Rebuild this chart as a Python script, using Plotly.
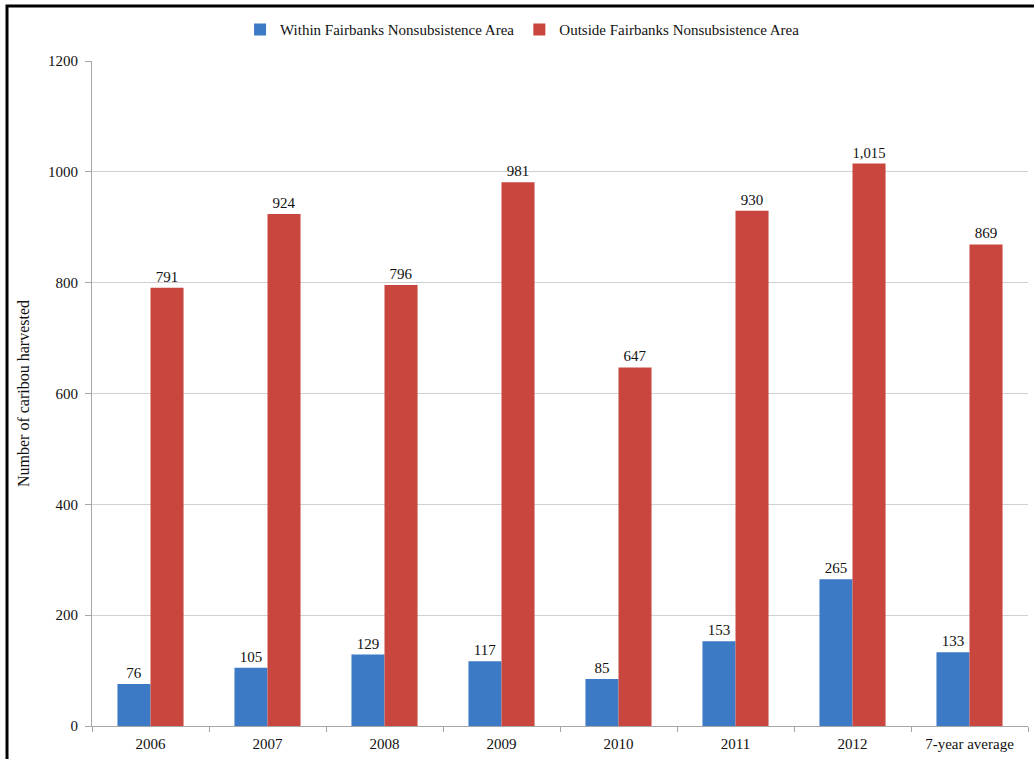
import plotly.graph_objects as go

categories = ["2006", "2007", "2008", "2009", "2010", "2011", "2012", "7-year average"]
within_values = [76, 105, 129, 117, 85, 153, 265, 133]
outside_values = [791, 924, 796, 981, 647, 930, 1015, 869]
y_ticks = [0, 200, 400, 600, 800, 1000, 1200]

FONT = "Liberation Serif, Times New Roman, serif"
BLUE = "#3D7AC6"
RED = "#C9463F"
TXT = "#111111"

fig = go.Figure()
fig.add_trace(go.Bar(
    x=categories, y=within_values, name="Within Fairbanks Nonsubsistence Area",
    marker=dict(color=BLUE, line=dict(width=0)),
    text=within_values, texttemplate="%{y:,d}", textposition="outside",
    textfont=dict(family=FONT, size=15, color=TXT), cliponaxis=False,
))
fig.add_trace(go.Bar(
    x=categories, y=outside_values, name="Outside Fairbanks Nonsubsistence Area",
    marker=dict(color=RED, line=dict(width=0)),
    text=outside_values, texttemplate="%{y:,d}", textposition="outside",
    textfont=dict(family=FONT, size=15, color=TXT), cliponaxis=False,
))

fig.update_layout(
    width=1034, height=759,
    margin=dict(l=92, r=6, t=61, b=33),
    paper_bgcolor="white", plot_bgcolor="white",
    barmode="group", bargap=0.435, bargroupgap=0,
    font=dict(family=FONT, size=15, color=TXT),
    showlegend=True,
    legend=dict(orientation="h", x=0.46, xanchor="center", y=1.047, yanchor="middle",
                font=dict(family=FONT, size=15, color=TXT),
                itemwidth=30, traceorder="normal"),
    xaxis=dict(type="category", showline=True, linecolor="#A6A6A6", linewidth=1,
               ticks="outside", tickson="boundaries", ticklen=5, tickcolor="#A6A6A6",
               ticklabelstandoff=4,
               tickfont=dict(family=FONT, size=15, color=TXT),
               showgrid=False),
    yaxis=dict(range=[0, 1200], tickvals=y_ticks, showline=True, linecolor="#A6A6A6",
               linewidth=1, ticks="outside", ticklen=6, tickcolor="#A6A6A6",
               showgrid=True, gridcolor="#D0D0D0", gridwidth=1,
               tickfont=dict(family=FONT, size=15, color=TXT),
               ticklabelstandoff=4,
               title=dict(text="Number of caribou harvested", standoff=14,
                          font=dict(family=FONT, size=16, color=TXT)),
               zeroline=False),
    shapes=[dict(type="rect", xref="paper", yref="paper",
                 x0=-0.0908, x1=1.02, y0=-0.1, y1=1.0827,
                 line=dict(color="black", width=3), fillcolor="rgba(0,0,0,0)", layer="above")],
)

fig.write_html("out.html", config={"displayModeBar": False},
               post_script="document.body.style.margin='0';document.body.style.overflow='hidden';")
